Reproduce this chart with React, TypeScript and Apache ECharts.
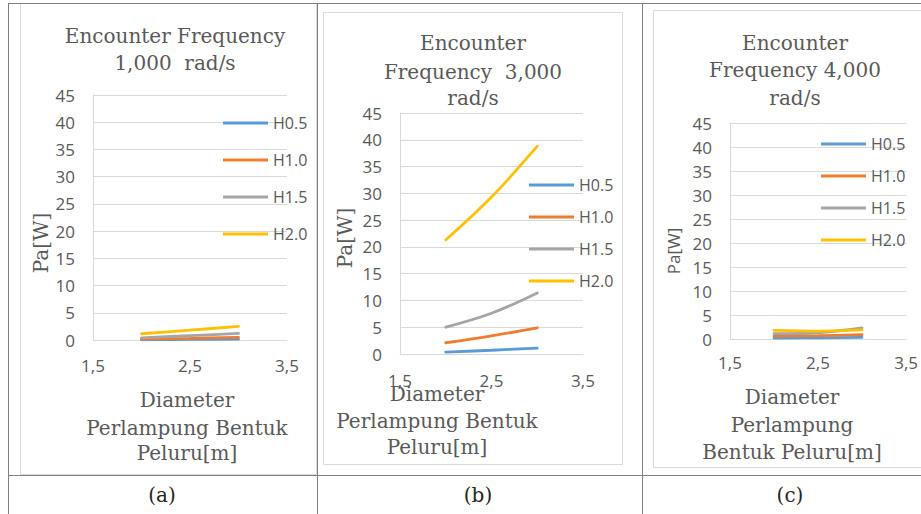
import React, { useEffect, useRef } from "react";
import * as echarts from "echarts";

// ---- data ----
const diameters = [2, 2.5, 3];
const seriesNames = ["H0.5", "H1.0", "H1.5", "H2.0"];
const seriesColors = ["#5B9BD5", "#ED7D31", "#A5A5A5", "#FFC000"];
const xTicks = [1.5, 2.5, 3.5];
const yTicks = [0, 5, 10, 15, 20, 25, 30, 35, 40, 45];

// (a) 1,000 rad/s
const a_H05 = [0.05, 0.1, 0.15];
const a_H10 = [0.15, 0.3, 0.5];
const a_H15 = [0.4, 0.8, 1.2];
const a_H20 = [1.15, 1.8, 2.5];
// (b) 3,000 rad/s
const b_H05 = [0.35, 0.7, 1.1];
const b_H10 = [2.1, 3.4, 4.9];
const b_H15 = [5.0, 7.6, 11.4];
const b_H20 = [21.3, 29.3, 38.8];
// (c) 4,000 rad/s
const c_H05 = [0.2, 0.25, 0.35];
const c_H10 = [0.6, 0.7, 0.9];
const c_H15 = [1.1, 1.3, 2.3];
const c_H20 = [1.8, 1.65, 1.9];

const titleA = ["Encounter Frequency", "1,000  rad/s"];
const titleB = ["Encounter", "Frequency  3,000", "rad/s"];
const titleC = ["Encounter", "Frequency 4,000", "rad/s"];
const xNameA = ["Diameter", "Perlampung Bentuk", "Peluru[m]"];
const xNameB = ["Diameter", "Perlampung Bentuk", "Peluru[m]"];
const xNameC = ["Diameter", "Perlampung", "Bentuk Peluru[m]"];
const yName = "Pa[W]";
const panelLabels = ["(a)", "(b)", "(c)"];

const SERIF = "DejaVu Serif";
const SANS = "Open Sans";
const GRAY = "#595959";
const LIGHT = "#D9D9D9";
const TABLE = "#7F7F7F";

const panels = [
  {
    values: [a_H05, a_H10, a_H15, a_H20],
    grid: { left: 93, top: 95, width: 194, height: 245 },
    legend: { left: 223, top: 115, itemGap: 21 },
    title: titleA, titleX: 175, titleY: [36, 63],
    xName: xNameA, xNameX: 187, xNameY: [400, 428, 453],
    yNameX: 41, yNameY: 243, yNameFont: `20px "${SERIF}"`,
    label: panelLabels[0], labelX: 162,
    xMargin: 17,
  },
  {
    values: [b_H05, b_H10, b_H15, b_H20],
    grid: { left: 400, top: 113, width: 183, height: 241 },
    legend: { left: 529, top: 177, itemGap: 16 },
    title: titleB, titleX: 473, titleY: [43, 72, 98],
    xName: xNameB, xNameX: 437, xNameY: [394, 421, 447],
    yNameX: 345, yNameY: 238, yNameFont: `20px "${SERIF}"`,
    label: panelLabels[1], labelX: 478,
    xMargin: 18,
  },
  {
    values: [c_H05, c_H10, c_H15, c_H20],
    grid: { left: 730, top: 123, width: 177, height: 216 },
    legend: { left: 821, top: 136, itemGap: 16 },
    title: titleC, titleX: 795, titleY: [43, 70, 98],
    xName: xNameC, xNameX: 792, xNameY: [397, 425, 452],
    yNameX: 673, yNameY: 251, yNameFont: `17px "${SANS}"`,
    label: panelLabels[2], labelX: 790,
    xMargin: 15,
  },
];

function text(x: number, y: number, t: string, font: string, fill = GRAY, rotation = 0) {
  return {
    type: "text",
    x,
    y,
    rotation,
    silent: true,
    style: { text: t, font, fill, align: "center", verticalAlign: "middle" },
  };
}

function line(x1: number, y1: number, x2: number, y2: number, stroke: string) {
  return {
    type: "line",
    silent: true,
    shape: { x1, y1, x2, y2 },
    style: { stroke, lineWidth: 1 },
  };
}

function rect(x: number, y: number, w: number, h: number, stroke: string) {
  return {
    type: "rect",
    silent: true,
    shape: { x, y, width: w, height: h },
    style: { fill: "none", stroke, lineWidth: 1 },
  };
}

export default function App() {
  const ref = useRef<HTMLDivElement>(null);

  useEffect(() => {
    if (!ref.current) return;
    const chart = echarts.init(ref.current, null, { renderer: "svg" });

    const grids: any[] = [];
    const xAxes: any[] = [];
    const yAxes: any[] = [];
    const series: any[] = [];
    const legends: any[] = [];
    const graphics: any[] = [];

    // table & chart frames
    graphics.push(rect(20.5, 3.5, 296, 471, LIGHT));
    graphics.push(rect(323.5, 12.5, 299, 452, LIGHT));
    graphics.push(rect(653.5, 10.5, 280, 457, LIGHT));
    graphics.push(line(8, 3.5, 921, 3.5, TABLE));
    graphics.push(line(8.5, 3, 8.5, 514, TABLE));
    graphics.push(line(317.5, 3, 317.5, 514, TABLE));
    graphics.push(line(642.5, 3, 642.5, 514, TABLE));
    graphics.push(line(8, 475.5, 921, 475.5, TABLE));

    panels.forEach((p, i) => {
      grids.push({ ...p.grid, containLabel: false });
      xAxes.push({
        type: "value",
        gridIndex: i,
        min: xTicks[0],
        max: xTicks[xTicks.length - 1],
        interval: 1,
        axisLine: { show: true, onZero: false, lineStyle: { color: LIGHT, width: 1 } },
        axisTick: { show: false },
        splitLine: { show: false },
        axisLabel: {
          color: GRAY,
          fontFamily: SANS,
          fontSize: 17,
          margin: p.xMargin,
          formatter: (v: number) => String(v).replace(".", ","),
        },
      });
      yAxes.push({
        type: "value",
        gridIndex: i,
        min: yTicks[0],
        max: yTicks[yTicks.length - 1],
        interval: 5,
        axisLine: { show: true, lineStyle: { color: LIGHT, width: 1 } },
        axisTick: { show: false },
        splitLine: { show: true, lineStyle: { color: LIGHT, width: 1 } },
        axisLabel: { color: GRAY, fontFamily: SANS, fontSize: 17, margin: 18 },
      });
      p.values.forEach((vals, k) => {
        series.push({
          type: "line",
          name: seriesNames[k],
          xAxisIndex: i,
          yAxisIndex: i,
          data: diameters.map((d, j) => [d, vals[j]]),
          symbol: "none",
          smooth: 0.35,
          color: seriesColors[k],
          lineStyle: { color: seriesColors[k], width: 2.8, cap: "round" },
          z: 2 + k,
        });
      });
      legends.push({
        orient: "vertical",
        left: p.legend.left,
        top: p.legend.top,
        padding: 0,
        itemGap: p.legend.itemGap,
        itemWidth: 45,
        itemHeight: 3,
        icon: "rect",
        selectedMode: false,
        data: seriesNames,
        textStyle: { color: GRAY, fontFamily: SANS, fontSize: 16 },
      });
      p.title.forEach((t, j) => graphics.push(text(p.titleX, p.titleY[j], t, `20px "${SERIF}"`)));
      p.xName.forEach((t, j) => graphics.push(text(p.xNameX, p.xNameY[j], t, `20px "${SERIF}"`)));
      graphics.push(text(p.yNameX, p.yNameY, yName, p.yNameFont, GRAY, Math.PI / 2));
      graphics.push(text(p.labelX, 495, p.label, `20px "${SERIF}"`, "#262626"));
    });

    chart.setOption({
      animation: false,
      backgroundColor: "#ffffff",
      grid: grids,
      xAxis: xAxes,
      yAxis: yAxes,
      legend: legends,
      series,
      graphic: { elements: graphics },
    });

    return () => chart.dispose();
  }, []);

  return (
    <div
      ref={ref}
      style={{ position: "fixed", left: 0, top: 0, width: 921, height: 514, background: "#fff" }}
    />
  );
}
